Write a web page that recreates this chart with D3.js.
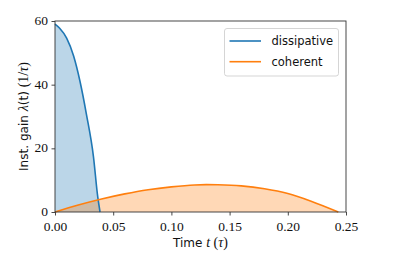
<!DOCTYPE html>
<html>
<head>
<meta charset="utf-8">
<script src="https://cdn.jsdelivr.net/npm/d3@7"></script>
<style>
  body { margin: 0; background: #fff; }
  svg { display: block; }
</style>
</head>
<body>
<div id="chart"></div>
<script>
// data
const dissT = [0, 0.004, 0.010, 0.016, 0.0215, 0.027, 0.033, 0.0367, 0.0387];
const dissV = [59, 57.7, 54.6, 49.0, 41.0, 30.7, 17.5, 4.8, 0];
const cohT = [0, 0.02, 0.04, 0.06, 0.08, 0.10, 0.12, 0.13, 0.14, 0.16, 0.18, 0.20, 0.22, 0.2434];
const cohV = [0, 2.2, 4.1, 5.7, 7.0, 7.9, 8.5, 8.6, 8.55, 8.2, 7.3, 5.8, 3.4, 0];
const xTicks = [0, 0.05, 0.10, 0.15, 0.20, 0.25];
const yTicks = [0, 20, 40, 60];
const seriesNames = ["dissipative", "coherent"];
const seriesColors = ["#1f77b4", "#ff7f0e"];

const width = 399, height = 266;
const margin = { left: 55, right: 53, top: 21, bottom: 54 };

const svg = d3.select("#chart").append("svg")
    .attr("width", width)
    .attr("height", height);

const x = d3.scaleLinear().domain([0, 0.25]).range([margin.left, width - margin.right]);
const y = d3.scaleLinear().domain([0, 60]).range([height - margin.bottom, margin.top]);

const series = [
    dissT.map((t, i) => [t, dissV[i]]),
    cohT.map((t, i) => [t, cohV[i]])
];

const area = d3.area()
    .x(d => x(d[0]))
    .y0(y(0))
    .y1(d => y(d[1]))
    .curve(d3.curveMonotoneX);

const line = d3.line()
    .x(d => x(d[0]))
    .y(d => y(d[1]))
    .curve(d3.curveMonotoneX);

// fills first, then lines
series.forEach((s, i) => {
    svg.append("path")
        .attr("d", area(s))
        .attr("fill", seriesColors[i])
        .attr("fill-opacity", 0.3);
});
series.forEach((s, i) => {
    svg.append("path")
        .attr("d", line(s))
        .attr("fill", "none")
        .attr("stroke", seriesColors[i])
        .attr("stroke-width", 1.6);
});

// frame
svg.append("rect")
    .attr("x", x(0))
    .attr("y", y(60))
    .attr("width", x(0.25) - x(0))
    .attr("height", y(0) - y(60))
    .attr("fill", "none")
    .attr("stroke", "#333")
    .attr("stroke-width", 0.9);

const serif = "'Liberation Serif', 'DejaVu Serif', serif";
const sans = "'DejaVu Sans', sans-serif";

// axes
const xAxis = svg.append("g")
    .attr("transform", `translate(0,${y(0)})`)
    .call(d3.axisBottom(x).tickValues(xTicks).tickFormat(d3.format(".2f")).tickSize(3.5).tickPadding(5.5));
const yAxis = svg.append("g")
    .attr("transform", `translate(${x(0)},0)`)
    .call(d3.axisLeft(y).tickValues(yTicks).tickSize(3.5).tickPadding(3.5));

[xAxis, yAxis].forEach(g => {
    g.select(".domain").remove();
    g.selectAll(".tick line").attr("stroke", "#333").attr("stroke-width", 0.9);
    g.selectAll(".tick text")
        .attr("fill", "#111")
        .style("font-family", serif)
        .style("font-size", "13.5px");
});
yAxis.selectAll(".tick text").attr("dy", "0.25em");

// axis labels
const xl = svg.append("text")
    .attr("x", (x(0) + x(0.25)) / 2)
    .attr("y", 247)
    .attr("text-anchor", "middle")
    .attr("fill", "#111")
    .style("font-size", "12px");
xl.append("tspan").style("font-family", sans).text("Time ");
xl.append("tspan").style("font-family", serif).style("font-style", "italic").style("font-size", "14px").text("t");
xl.append("tspan").style("font-family", serif).style("font-size", "14px").text(" (");
xl.append("tspan").style("font-family", serif).style("font-style", "italic").style("font-size", "14px").text("τ");
xl.append("tspan").style("font-family", serif).style("font-size", "14px").text(")");

const yl = svg.append("text")
    .attr("transform", `translate(28,${(y(0) + y(60)) / 2}) rotate(-90)`)
    .attr("text-anchor", "middle")
    .attr("fill", "#111")
    .style("font-size", "12px");
yl.append("tspan").style("font-family", sans).text("Inst.");
yl.append("tspan").style("font-family", sans).attr("dx", 4).text("gain ");
yl.append("tspan").style("font-family", serif).style("font-style", "italic").style("font-size", "14px").text("λ");
yl.append("tspan").style("font-family", sans).text("(t) ");
yl.append("tspan").style("font-family", serif).style("font-size", "14px").text("(1/");
yl.append("tspan").style("font-family", serif).style("font-style", "italic").style("font-size", "14px").text("τ");
yl.append("tspan").style("font-family", serif).style("font-size", "14px").text(")");

// legend
const legend = svg.append("g").attr("transform", "translate(224.5,28.5)");
legend.append("rect")
    .attr("width", 114)
    .attr("height", 47.5)
    .attr("rx", 2.5)
    .attr("fill", "#fff")
    .attr("fill-opacity", 0.8)
    .attr("stroke", "#d0d0d0")
    .attr("stroke-width", 0.9);

seriesNames.forEach((name, i) => {
    const ly = 12.5 + i * 20.7;
    legend.append("line")
        .attr("x1", 5).attr("x2", 36.5)
        .attr("y1", ly).attr("y2", ly)
        .attr("stroke", seriesColors[i])
        .attr("stroke-width", 1.6);
    legend.append("text")
        .attr("x", 47)
        .attr("y", ly + 4)
        .attr("fill", "#111")
        .style("font-family", sans)
        .style("font-size", "11.5px")
        .text(name);
});
</script>
</body>
</html>
